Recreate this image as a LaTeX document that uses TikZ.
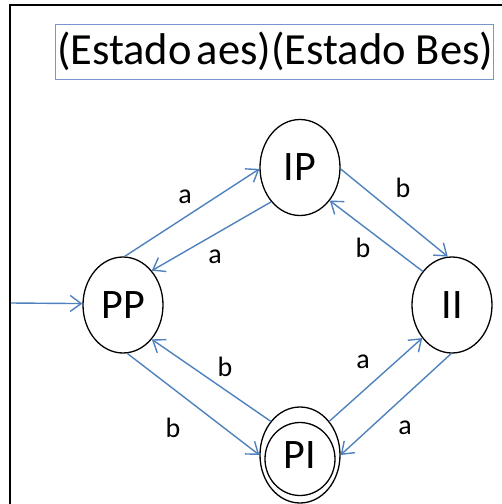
\documentclass[tikz,border=0pt]{standalone}
\usepackage{fontspec}
\setmainfont{Carlito}
\usetikzlibrary{shapes.geometric,arrows.meta}
\definecolor{edgeblue}{RGB}{79,129,189}
\definecolor{boxblue}{RGB}{120,150,205}
\tikzset{
  state/.style={ellipse, draw=black, line width=1.3pt, inner sep=0pt,
    minimum width=80pt, minimum height=96pt,
    font=\fontsize{42}{44}\selectfont},
  trans/.style={draw=edgeblue, line width=1.4pt,
    -{Straight Barb[length=11pt,width=16pt,line width=1.4pt]}},
  lbl/.style={font=\fontsize{28}{30}\selectfont, inner sep=0pt},
  titlebox/.style={draw=boxblue, line width=0.9pt, inner xsep=2pt, inner ysep=0pt,
    minimum height=55pt, font=\fontsize{44.5}{47}\selectfont}
}
\begin{document}
\begin{tikzpicture}[x=1pt,y=-1pt]
  \clip (0,0) rectangle (502,504);
  % outer frame (left and top edges visible)
  \draw[line width=1.5pt] (10,520) -- (10,5) -- (520,5);

  % heading
  \node[titlebox] (title) at (274,51.5)
    {\makebox[434pt][l]{(Estado\hspace{0.12em}aes)(Estado Bes)}};

  % states
  \node[state] (IP) at (300,167.5) {IP};
  \node[state] (PP) at (123,305) {PP};
  \node[state] (II) at (452,305) {II};
  \node[state] (PI) at (300,455) {PI};
  \node[ellipse, draw=black, line width=1.3pt, inner sep=0pt,
        minimum width=70pt, minimum height=73pt] (PIin) at (300,459) {};

  % start arrow
  \coordinate (start) at (11,303);
  \draw[trans] (start) -- (PP.178);

  % transitions
  \draw[trans] (PP.88) -- (IP.182);
  \draw[trans] (IP.230) -- (PP.50);
  \draw[trans] (IP.358) -- (II.95);
  \draw[trans] (II.131) -- (IP.312);
  \draw[trans] (PP.275) -- (PI.180);
  \draw[trans] (PI.131) -- (PP.310);
  \draw[trans] (PI.49) -- (II.228);
  \draw[trans] (II.269) -- (PI.0);

  % transition labels
  \node[lbl] (la1) at (185,197) {a};
  \node[lbl] (la2) at (215,257) {a};
  \node[lbl] (lb1) at (403,188) {b};
  \node[lbl] (lb2) at (363,248) {b};
  \node[lbl] (lb3) at (225,367) {b};
  \node[lbl] (lb4) at (173,428) {b};
  \node[lbl] (la3) at (363,362) {a};
  \node[lbl] (la4) at (405,428) {a};
\end{tikzpicture}
\end{document}
